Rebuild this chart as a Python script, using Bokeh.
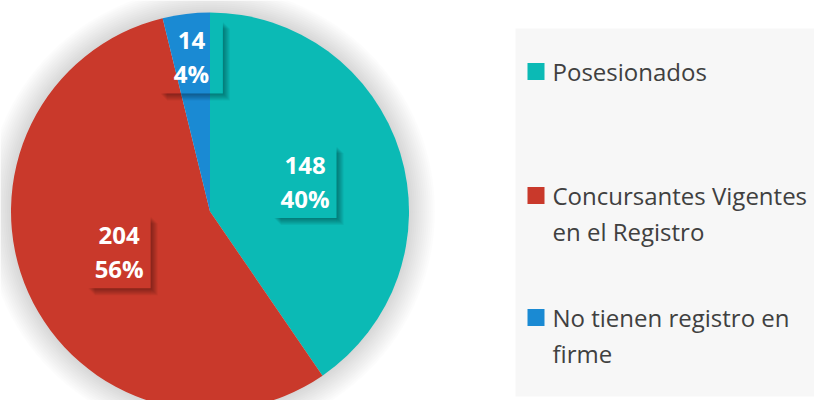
import numpy as np
from bokeh.plotting import figure
from bokeh.models import Range1d, ColumnDataSource
from bokeh.core.properties import value
from bokeh.embed import file_html
from bokeh.resources import INLINE

# ---- data ----
categories = ["Posesionados", "Concursantes Vigentes en el Registro", "No tienen registro en firme"]
legend_lines = [["Posesionados"], ["Concursantes Vigentes", "en el Registro"], ["No tienen registro en", "firme"]]
counts = [148, 204, 14]
colors = ["#0BBAB5", "#C9392B", "#1A8AD3"]

# ---- layout / style ----
W, H = 814, 400
PAGE_H = 408
cx, cy, R = 209.5, PAGE_H - 211, 199
label_rf = [0.5, 0.5, 0.78]
box_w, box_h = 63, 72
FONT = "Open Sans"

vals = np.array(counts, dtype=float)
frac = vals / vals.sum()
cum = np.concatenate([[0], np.cumsum(frac)[:-1]])
start = np.pi / 2 - cum * 2 * np.pi
end = start - frac * 2 * np.pi
mid = (start + end) / 2
pct = [f"{int(round(f * 100))}%" for f in frac]

p = figure(width=W, height=H, x_range=Range1d(0, W), y_range=Range1d(PAGE_H - H, PAGE_H),
           output_backend="svg", toolbar_location=None, min_border=0,
           x_axis_location=None, y_axis_location=None)
p.grid.visible = False
p.outline_line_color = None
p.background_fill_color = "white"
p.border_fill_color = "white"

# soft glow around pie
for d in np.arange(26, 0, -2):
    p.circle(x=[cx], y=[cy], radius=R + d, fill_color="black", fill_alpha=0.011, line_color=None)

src = ColumnDataSource(dict(start=start, end=end, color=colors, cat=categories))
p.wedge(x=cx, y=cy, radius=R, start_angle="start", end_angle="end", direction="clock",
        fill_color="color", line_color=None, source=src)

# labels
lx = cx + np.array(label_rf) * R * np.cos(mid)
ly = cy + np.array(label_rf) * R * np.sin(mid)
for k in range(1, 8):
    # right strip
    p.quad(left=lx + box_w / 2, right=lx + box_w / 2 + k, top=ly + box_h / 2 - k,
           bottom=ly - box_h / 2 - k, fill_color="black", fill_alpha=0.05, line_color=None)
    # bottom strip
    p.quad(left=lx - box_w / 2 + k, right=lx + box_w / 2, top=ly - box_h / 2,
           bottom=ly - box_h / 2 - k, fill_color="black", fill_alpha=0.05, line_color=None)

p.text(x=lx, y=ly, text=[str(c) for c in counts], y_offset=-17, text_align="center",
       text_baseline="middle", text_color="white", text_font=value(FONT),
       text_font_style="bold", text_font_size="24px")
p.text(x=lx, y=ly, text=pct, y_offset=16, text_align="center",
       text_baseline="middle", text_color="white", text_font=value(FONT),
       text_font_style="bold", text_font_size="24px")

# legend
p.quad(left=515, right=W, top=PAGE_H - 28, bottom=PAGE_H - 396,
       fill_color="#F7F7F7", line_color=None)
leg_y = [71, 195, 317]
line_gap = 36
p.rect(x=535.5, y=[PAGE_H - y for y in leg_y], width=17, height=17,
       fill_color=colors, line_color=None)
tx, ty, tt = [], [], []
for lines, y0 in zip(legend_lines, leg_y):
    for i, ln in enumerate(lines):
        tx.append(552)
        ty.append(PAGE_H - (y0 + i * line_gap))
        tt.append(ln)
p.text(x=tx, y=ty, text=tt, text_align="left", text_baseline="middle",
       text_color="#404040", text_font=value(FONT), text_font_size="24px")

open("out.html", "w").write(file_html(p, INLINE))
